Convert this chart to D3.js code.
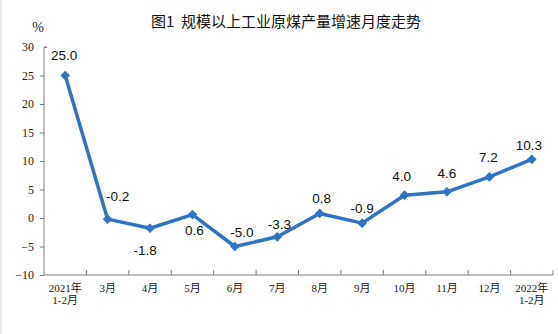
<!DOCTYPE html>
<html><head><meta charset="utf-8">
<script src="https://cdn.jsdelivr.net/npm/d3@7"></script>
<style>body{margin:0;background:#fff}</style>
</head><body>
<script>
const categories = ["2021年\n1-2月","3月","4月","5月","6月","7月","8月","9月","10月","11月","12月","2022年\n1-2月"];
const values = [25.0,-0.2,-1.8,0.6,-5.0,-3.3,0.8,-0.9,4.0,4.6,7.2,10.3];
const yTicks = [-10,-5,0,5,10,15,20,25,30];
const title = "图1  规模以上工业原煤产量增速月度走势";
const unit = "%";
// label offsets (dx, dy of baseline relative to point)
const labelOffsets = [[-1,-16],[10,-18],[-5,27],[2,20],[7,-10],[2,-8],[2,-10],[0,-10],[-3,-14],[0,-14],[-1,-15],[-3,-9]];

const W=558,H=334;
const svg=d3.select("body").append("svg").attr("width",W).attr("height",H);
svg.append("rect").attr("width",W).attr("height",H).attr("fill","#fff");
svg.append("rect").attr("width",2).attr("height",H).attr("fill","#eeeeee");

const x=d3.scaleBand().domain(categories).range([44,553]);
const y=d3.scaleLinear().domain([-10,30]).range([275,47]);
const axisColor="#7f7f7f";
const serif="'Liberation Serif','Noto Sans CJK SC',serif";

svg.append("text").attr("x",286).attr("y",27).attr("text-anchor","middle")
  .attr("font-family","'Noto Sans CJK SC',sans-serif").attr("font-size",15).attr("font-weight",400)
  .attr("fill","#111").attr("xml:space","preserve").style("white-space","pre").text(title);
svg.append("text").attr("x",38).attr("y",32).attr("text-anchor","middle")
  .attr("font-family",serif).attr("font-size",14).attr("fill","#222").text(unit);

// y axis
const yAxis=svg.append("g").attr("transform","translate(44,0)")
  .call(d3.axisLeft(y).tickValues(yTicks).tickSize(4).tickPadding(6));
yAxis.select(".domain").attr("stroke",axisColor).attr("d",`M3,${y(30)}H0V${y(-10)}`);
yAxis.selectAll(".tick line").attr("stroke",axisColor).filter(d=>d===30).attr("x2",3);
yAxis.selectAll(".tick text").attr("font-family",serif).attr("font-size",12).attr("fill","#222");

// x axis
const xAxis=svg.append("g").attr("transform","translate(0,275)");
xAxis.append("line").attr("x1",44).attr("x2",553).attr("stroke",axisColor);
const bounds=categories.map(c=>x(c)).concat([x.range()[1]]);
xAxis.selectAll("line.tk").data(bounds.slice(1)).join("line").attr("class","tk")
  .attr("x1",d=>d).attr("x2",d=>d).attr("y1",0).attr("y2",-5).attr("stroke",axisColor);
const xl=xAxis.selectAll("text.xl").data(categories).join("text").attr("class","xl")
  .attr("text-anchor","middle").attr("font-family",serif).attr("font-size",11).attr("fill","#222");
xl.each(function(d){
  const lines=d.split("\n");
  const t=d3.select(this);
  lines.forEach((l,i)=>t.append("tspan").attr("x",x(d)+x.bandwidth()/2).attr("y",17+i*12).text(l));
});

const cx=(d,i)=>x(categories[i])+x.bandwidth()/2;
const line=d3.line().x((d,i)=>cx(d,i)).y(d=>y(d));
const color="#2f74c2";
svg.append("path").datum(values).attr("d",line).attr("fill","none").attr("stroke",color)
  .attr("stroke-width",3.5).attr("stroke-linejoin","round");
svg.selectAll("path.m").data(values).join("path").attr("class","m")
  .attr("d",d3.symbol(d3.symbolDiamond2,60)())
  .attr("transform",(d,i)=>`translate(${cx(d,i)},${y(d)})`).attr("fill",color);
svg.selectAll("text.lab").data(values).join("text").attr("class","lab")
  .attr("x",(d,i)=>cx(d,i)+labelOffsets[i][0]).attr("y",(d,i)=>y(d)+labelOffsets[i][1])
  .attr("text-anchor","middle").attr("font-family","'Liberation Sans',Arial,sans-serif")
  .attr("font-size",13.5).attr("fill","#111").text(d=>d.toFixed(1));
</script>
</body></html>
